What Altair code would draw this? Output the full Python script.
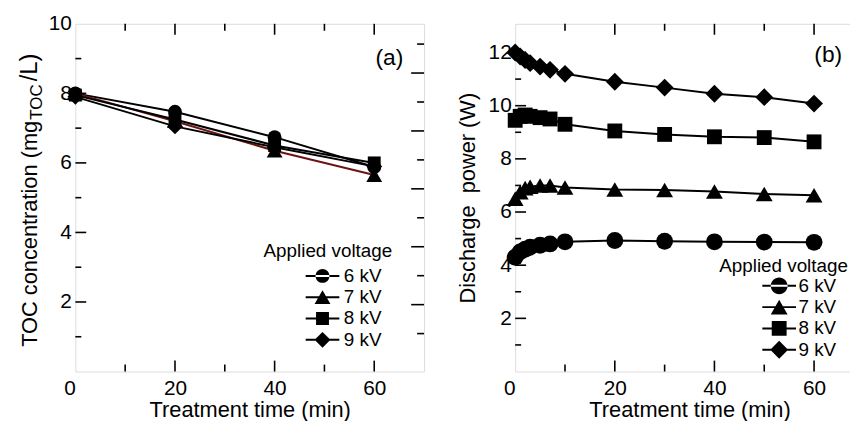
import altair as alt
import pandas as pd

FONT = "Liberation Sans"
voltages = ["6 kV", "7 kV", "8 kV", "9 kV"]

# ---- panel (a): TOC concentration ----
toc_time = [0, 20, 40, 60]
toc_6 = [8.0, 7.47, 6.74, 5.88]
toc_7 = [8.0, 7.2, 6.35, 5.65]
toc_8 = [7.95, 7.25, 6.5, 6.0]
toc_9 = [7.9, 7.05, 6.45, 5.9]

# ---- panel (b): discharge power ----
pw_time = [0, 1, 2, 3, 5, 7, 10, 20, 30, 40, 50, 60]
pw_6 = [4.3, 4.5, 4.6, 4.68, 4.75, 4.8, 4.88, 4.93, 4.9, 4.88, 4.87, 4.86]
pw_7 = [6.5, 6.75, 6.9, 6.95, 7.0, 7.0, 6.92, 6.85, 6.83, 6.77, 6.68, 6.63]
pw_8 = [9.45, 9.6, 9.65, 9.6, 9.55, 9.5, 9.3, 9.05, 8.92, 8.83, 8.8, 8.64]
pw_9 = [12.0, 11.85, 11.72, 11.6, 11.47, 11.35, 11.2, 10.9, 10.68, 10.45, 10.32, 10.08]

# tick values
x_labels = [0, 20, 40, 60]
x_major = [20, 40, 60]
x_minor = [10, 30, 50]
a_y_labels = [2, 4, 6, 8, 10]
a_y_major = [2, 4, 6, 8]
a_y_minor = [1, 3, 5, 7, 9]
b_y_labels = [2, 4, 6, 8, 10, 12]
b_y_major = [2, 4, 6, 8, 10, 12]
b_y_minor = [1, 3, 5, 7, 9, 11]
r_major = [2, 4, 6, 8, 10]
r_minor = [1, 3, 5, 7, 9, 11]

# texts
x_title = "Treatment time (min)"
a_y_title = ["TOC concentration (mg", "TOC", "/L)"]
b_y_title = "Discharge\u00a0 power (W)"
legend_title = "Applied voltage"
tags = ["(a)", "(b)"]

W, H = 352, 351
shapes = ["circle", "triangle-up", "square", "diamond"]


def legend_paths(scale, half_line, circ, tri, sq, dia):
    L = half_line / scale
    lw = 1.0 / scale
    c = circ / scale
    t = tri / scale
    h = t * 0.866
    s = sq / scale
    d = dia / scale
    line = f"M{-L:.3f},{-lw:.3f}L{L:.3f},{-lw:.3f}L{L:.3f},{lw:.3f}L{-L:.3f},{lw:.3f}Z"
    return [
        line + f"M{-c:.3f},0A{c:.3f},{c:.3f},0,1,0,{c:.3f},0A{c:.3f},{c:.3f},0,1,0,{-c:.3f},0Z",
        line + f"M0,{-h:.3f}L{t:.3f},{h:.3f}L{-t:.3f},{h:.3f}Z",
        line + f"M{-s:.3f},{-s:.3f}L{s:.3f},{-s:.3f}L{s:.3f},{s:.3f}L{-s:.3f},{s:.3f}Z",
        line + f"M0,{-d:.3f}L{d:.3f},0L0,{d:.3f}L{-d:.3f},0Z",
    ]


def text_layer(txt, x, y, size, angle=0, align="left"):
    df = pd.DataFrame({"label": [txt]})
    return alt.Chart(df).mark_text(font=FONT, fontSize=size, angle=angle, align=align,
                                   baseline="middle", color="black").encode(
        text="label:N", x=alt.value(x), y=alt.value(y))


def right_ticks(rdomain):
    rs = alt.Scale(domain=rdomain, nice=False, zero=False)
    layers = []
    for vals, ln in [(r_major, 13), (r_minor, 7)]:
        df = pd.DataFrame({"r": vals})
        layers.append(alt.Chart(df).mark_rule(color="black", strokeWidth=1.6).encode(
            y=alt.Y("r:Q", scale=rs, axis=None), x=alt.value(W), x2=alt.value(W - ln)))
    return alt.layer(*layers)


def panel(times, series, ydom, y_labels, y_major, y_minor, rdom, line_colors, sizes,
          leg_scale, leg_paths, leg_x, leg_y, leg_label_offset, leg_title_xy, tag, tag_xy,
          y_title, extra_title_layers):
    rows = []
    for name, vals in zip(voltages, series):
        for t, v in zip(times, vals):
            rows.append({"t": t, "v": v, "kV": name})
    df = pd.DataFrame(rows)
    xs = alt.Scale(domain=[0, 70], nice=False, zero=False)
    ys = alt.Scale(domain=ydom, nice=False, zero=False)
    xaxis = alt.Axis(
        values=x_labels, ticks=False, domain=False, grid=False, title=x_title,
        labelFontSize=21, labelFont=FONT, labelPadding=6, labelColor="black",
        labelAlign={"expr": "datum.value == 0 ? 'right' : 'center'"},
        titleFontSize=22, titleFont=FONT, titleFontWeight="normal", titlePadding=1,
        titleColor="black")
    yaxis = alt.Axis(values=y_labels, ticks=False, domain=False, grid=False,
                     labelFontSize=21, labelFont=FONT, labelPadding=4, labelColor="black",
                     title=y_title if y_title else None,
                     titleFontSize=22, titleFont=FONT, titleFontWeight="normal",
                     titlePadding=9, titleColor="black")
    xenc = alt.X("t:Q", scale=xs, axis=xaxis)
    yenc = alt.Y("v:Q", scale=ys, axis=yaxis)
    base = alt.Chart(df)
    layers = []
    for name, col in zip(voltages, line_colors):
        layers.append(base.transform_filter(alt.datum.kV == name).mark_line(
            strokeWidth=2, color=col).encode(x=xenc, y=yenc))
    for name, shp, sz in zip(voltages, shapes, sizes):
        layers.append(base.transform_filter(alt.datum.kV == name).mark_point(
            shape=shp, filled=True, size=sz, color="black", opacity=1).encode(x=xenc, y=yenc))
    layers.append(base.mark_point(filled=True, color="black", opacity=0).encode(
        x=xenc, y=yenc,
        shape=alt.Shape("kV:N", scale=alt.Scale(domain=voltages, range=leg_paths),
                        legend=alt.Legend(orient="none", legendX=leg_x, legendY=leg_y, title=None,
                                          labelFont=FONT, labelFontSize=19, labelColor="black",
                                          symbolSize=leg_scale, symbolOpacity=1,
                                          symbolFillColor="black", symbolStrokeWidth=0,
                                          labelOffset=leg_label_offset,
                                          rowPadding=1.5, padding=0))))
    # inward ticks drawn on the shared scales
    for vals, ln in [(y_major, 11), (y_minor, 6)]:
        tdf = pd.DataFrame({"v": vals})
        layers.append(alt.Chart(tdf).mark_rule(color="black", strokeWidth=1.6).encode(
            y=yenc, x=alt.value(0), x2=alt.value(ln)))
    for vals, ln in [(x_major, 11), (x_minor, 7)]:
        tdf = pd.DataFrame({"t": vals})
        layers.append(alt.Chart(tdf).mark_rule(color="black", strokeWidth=1.6).encode(
            x=xenc, y=alt.value(H), y2=alt.value(H - ln)))
        layers.append(alt.Chart(tdf).mark_rule(color="black", strokeWidth=1.6).encode(
            x=xenc, y=alt.value(0), y2=alt.value(ln)))
    layers.append(text_layer(legend_title, leg_title_xy[0], leg_title_xy[1], 19))
    layers.append(text_layer(tag, tag_xy[0], tag_xy[1], 23, align="center"))
    layers.extend(extra_title_layers)
    main = alt.layer(*layers)
    return alt.layer(main, right_ticks(rdom)).resolve_scale(y="independent").properties(
        width=W, height=H)


# y title of panel (a) with subscript, as text pieces
a_title_layers = [
    text_layer(a_y_title[0], -46, 212, 22, angle=270, align="center"),
    text_layer(a_y_title[1], -39, 79, 17, angle=270, align="center"),
    text_layer(a_y_title[2], -46, 44, 24, angle=270, align="center"),
]

pa = panel(toc_time, [toc_6, toc_7, toc_8, toc_9], [0, 10], a_y_labels, a_y_major, a_y_minor,
           [-0.31, 11.7], ["black", "#6b1414", "black", "black"], [196, 256, 169, 256],
           196, legend_paths(7, 17, 7, 8, 6.5, 8), 240, 245, 12, (190, 229), tags[0], (317, 35),
           None, a_title_layers)
pb = panel(pw_time, [pw_6, pw_7, pw_8, pw_9], [0, 13.08], b_y_labels, b_y_major, b_y_minor,
           [0, 12], ["black", "black", "black", "black"], [289, 289, 225, 324],
           289, legend_paths(8.5, 17, 8.5, 8.5, 7.5, 9), 257, 255, 10, (206, 245), tags[1], (316, 32),
           b_y_title, [])

chart = alt.hconcat(pa, pb, spacing=30).resolve_scale(
    shape="independent", color="independent").configure_view(
    stroke="black", strokeWidth=2).configure(padding={"left": 9, "top": 2, "right": -16, "bottom": 0})

chart.save("out.html", embed_options={"renderer": "svg", "actions": False})
